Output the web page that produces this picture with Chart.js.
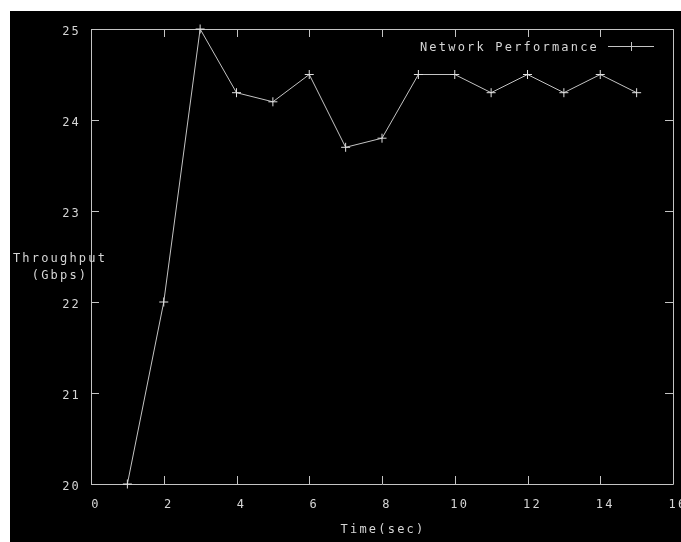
<!DOCTYPE html>
<html><head><meta charset="utf-8">
<script src="https://cdn.jsdelivr.net/npm/chart.js@4.4.0/dist/chart.umd.min.js"></script>
<style>html,body{margin:0;padding:0;background:#fff;overflow:hidden}#wrap{position:absolute;left:0;top:0;width:681px;height:542px}</style>
</head><body><div id="wrap"><canvas id="c" width="681" height="542"></canvas></div>
<script>
const timeSec = [1, 2, 3, 4, 5, 6, 7, 8, 9, 10, 11, 12, 13, 14, 15];
const throughput = [20, 22, 25, 24.3, 24.2, 24.5, 23.7, 23.8, 24.5, 24.5, 24.3, 24.5, 24.3, 24.5, 24.3];
const xTickLabels = [0, 2, 4, 6, 8, 10, 12, 14, 16];
const yTickLabels = [20, 21, 22, 23, 24, 25];
const seriesLabel = 'Network Performance';
const xTitle = 'Time(sec)';
const yTitleLines = ['Throughput', '(Gbps)'];

const LINE = '#c4c4c4';
const TEXT = '#d6d6d6';
const FONT = { family: '"DejaVu Sans Mono", "Liberation Mono", monospace', size: 12 };
const SPACING = '2.2px';

const gnuplotFrame = {
  id: 'gnuplotFrame',
  beforeDraw(chart) {
    const ctx = chart.ctx;
    ctx.save();
    ctx.fillStyle = '#ffffff';
    ctx.fillRect(0, 0, chart.width, chart.height);
    ctx.fillStyle = '#000000';
    ctx.fillRect(10, 11, chart.width - 10, chart.height - 11);
    ctx.restore();
    ctx.letterSpacing = SPACING;
  },
  beforeDatasetsDraw(chart) {
    const ctx = chart.ctx;
    const a = chart.chartArea;
    const xs = chart.scales.x, ys = chart.scales.y;
    const tl = 8;
    ctx.save();
    ctx.strokeStyle = LINE;
    ctx.lineWidth = 1;
    ctx.beginPath();
    ctx.rect(Math.round(a.left) + 0.5, Math.round(a.top) + 0.5, Math.round(a.right - a.left), Math.round(a.bottom - a.top));
    xs.ticks.forEach(t => {
      const px = Math.round(xs.getPixelForValue(t.value)) + 0.5;
      ctx.moveTo(px, a.bottom); ctx.lineTo(px, a.bottom - tl);
      ctx.moveTo(px, a.top); ctx.lineTo(px, a.top + tl);
    });
    ys.ticks.forEach(t => {
      const py = Math.round(ys.getPixelForValue(t.value)) + 0.5;
      ctx.moveTo(a.left, py); ctx.lineTo(a.left + tl, py);
      ctx.moveTo(a.right, py); ctx.lineTo(a.right - tl, py);
    });
    ctx.stroke();
    ctx.restore();
  },
  afterDraw(chart) {
    const ctx = chart.ctx;
    const a = chart.chartArea;
    ctx.save();
    ctx.letterSpacing = SPACING;
    ctx.font = FONT.size + 'px ' + FONT.family;
    ctx.fillStyle = TEXT;
    ctx.textBaseline = 'middle';
    // legend
    const ly = a.top + 17;
    ctx.textAlign = 'right';
    ctx.fillText(chart.data.datasets[0].label, a.right - 74, ly + 2);
    ctx.strokeStyle = LINE;
    ctx.lineWidth = 1;
    ctx.beginPath();
    ctx.moveTo(a.right - 65, ly + 0.5); ctx.lineTo(a.right - 19, ly + 0.5);
    const cx = Math.round(a.right - 42) + 0.5;
    ctx.moveTo(cx, ly - 4); ctx.lineTo(cx, ly + 5);
    ctx.stroke();
    // axis titles
    ctx.textAlign = 'center';
    ctx.fillText(xTitle, (a.left + a.right) / 2 + 1, a.bottom + 46);
    const my = (a.top + a.bottom) / 2;
    ctx.fillText(yTitleLines[0], a.left - 31, my + 2);
    ctx.fillText(yTitleLines[1], a.left - 31, my + 19);
    ctx.restore();
  }
};

new Chart(document.getElementById('c'), {
  type: 'line',
  data: {
    datasets: [{
      label: seriesLabel,
      data: timeSec.map((t, i) => ({ x: t, y: throughput[i] })),
      borderColor: LINE,
      backgroundColor: LINE,
      borderWidth: 1,
      pointStyle: 'cross',
      pointRadius: 4.5,
      pointBorderWidth: 1,
      pointBorderColor: '#e0e0e0',
      tension: 0,
      clip: false
    }]
  },
  options: {
    responsive: false,
    animation: false,
    devicePixelRatio: 1,
    layout: { padding: { top: 29, right: 8, left: 0, bottom: 0 } },
    plugins: { legend: { display: false }, tooltip: { enabled: false } },
    scales: {
      x: {
        type: 'linear', min: 0, max: 16,
        afterBuildTicks(s) { s.ticks = xTickLabels.map(v => ({ value: v })); },
        afterFit(s) { s.height = 58; s.paddingLeft = 0; s.paddingRight = 0; },
        ticks: { color: TEXT, font: FONT, padding: 14, labelOffset: 5, maxRotation: 0, autoSkip: false },
        grid: { display: false, drawTicks: false },
        border: { display: false }
      },
      y: {
        type: 'linear', min: 20, max: 25,
        afterBuildTicks(s) { s.ticks = yTickLabels.map(v => ({ value: v })); },
        afterFit(s) { s.width = 91; s.paddingTop = 0; s.paddingBottom = 0; },
        ticks: { color: TEXT, font: FONT, padding: 10, labelOffset: 3, autoSkip: false },
        grid: { display: false, drawTicks: false },
        border: { display: false }
      }
    }
  },
  plugins: [gnuplotFrame]
});
</script></body></html>
